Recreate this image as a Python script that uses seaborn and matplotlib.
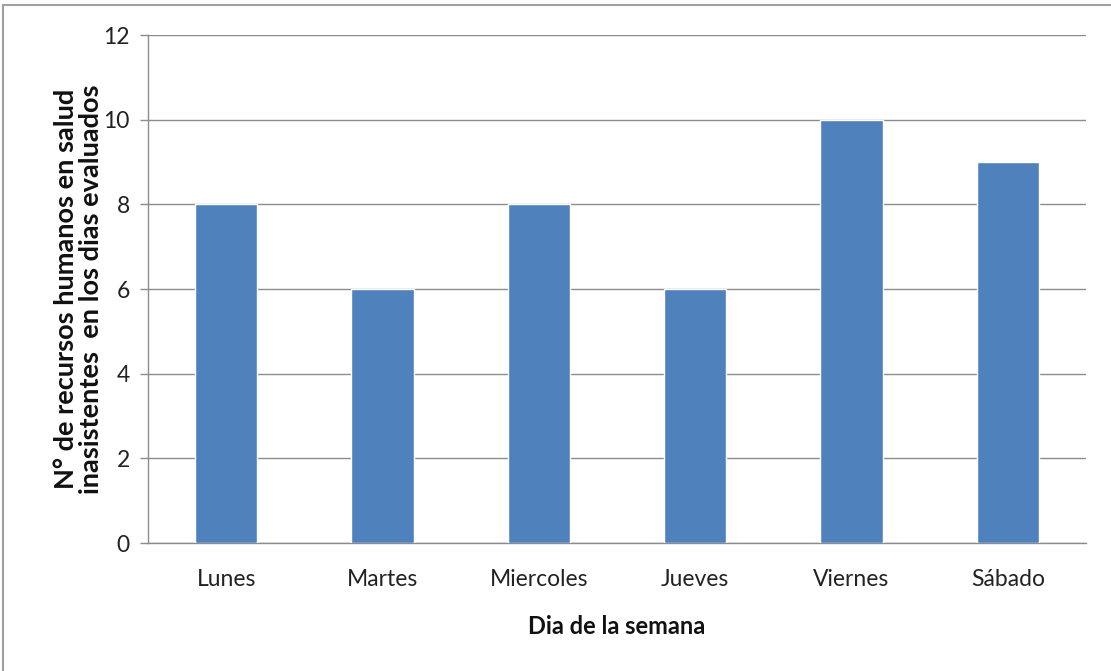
import matplotlib
matplotlib.use("Agg")
import matplotlib.pyplot as plt
import seaborn as sns
import pandas as pd

days = ["Lunes", "Martes", "Miercoles", "Jueves", "Viernes", "Sábado"]
values = [8, 6, 8, 6, 10, 9]
y_ticks = [0, 2, 4, 6, 8, 10, 12]

sns.set_theme(style="white")
plt.rcParams['font.family'] = ['Lato', 'DejaVu Sans']

df = pd.DataFrame({"dia": days, "n": values})

fig = plt.figure(figsize=(11.11, 6.71), dpi=100)
ax = fig.add_axes([148/1111, 1-543/671, (1086-148)/1111, (543-35)/671])

sns.barplot(data=df, x="dia", y="n", color="#4F81BD", saturation=1, width=0.4, ax=ax, zorder=3)

ax.set_ylim(0, 12)
ax.set_yticks(y_ticks)
ax.set_xlim(-0.5, len(days)-0.5)
ax.yaxis.grid(True, color="#8C8C8C", linewidth=1.0, zorder=0)
ax.set_axisbelow(True)
for s in ["top", "right"]:
    ax.spines[s].set_visible(False)
for s in ["left", "bottom"]:
    ax.spines[s].set_color("#8C8C8C")
    ax.spines[s].set_linewidth(1.0)
ax.tick_params(axis="y", left=True, length=6, width=1, color="#8C8C8C", labelsize=16.5, pad=7, labelcolor="#222222")
ax.tick_params(axis="x", bottom=False, labelsize=16.5, pad=13, labelcolor="#222222")

ax.set_xlabel("Dia de la semana", fontsize=17, fontweight="bold", labelpad=18, color="#111111")
ax.set_ylabel("N° de recursos humanos en salud\ninasistentes  en los dias evaluados", fontsize=19.5,
              fontweight="bold", labelpad=0, color="#111111", linespacing=1.05)

# outer frame (top and left visible)
fig.add_artist(plt.Line2D([3/1111, 1], [1-5/671, 1-5/671], transform=fig.transFigure, color="#A0A0A0", linewidth=1.5))
fig.add_artist(plt.Line2D([3/1111, 3/1111], [0, 1-5/671], transform=fig.transFigure, color="#A0A0A0", linewidth=1.5))

fig.savefig("out.png", dpi=100, facecolor="white")
